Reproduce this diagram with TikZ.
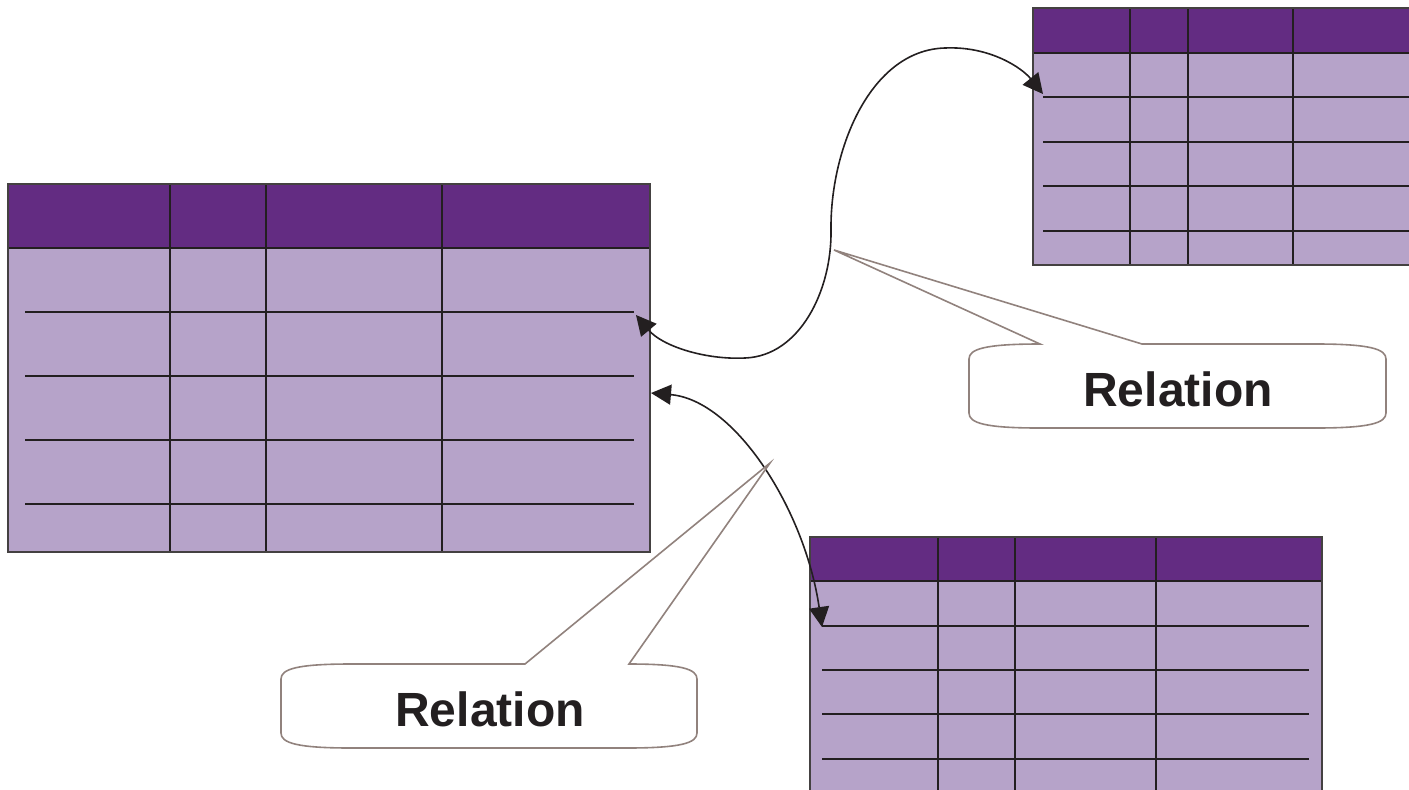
\documentclass[tikz,border=0pt]{standalone}
\usepackage{fontspec}
\setmainfont{Liberation Sans}
\usetikzlibrary{arrows.meta}
\definecolor{hdr}{RGB}{99,44,130}
\definecolor{bdy}{RGB}{182,163,201}
\definecolor{ink}{RGB}{35,31,32}
\definecolor{callborder}{RGB}{145,130,125}
\begin{document}
\begin{tikzpicture}[x=1pt,y=-1pt,
  tbl/.style={draw=ink!85,line width=1.4pt,fill=bdy,inner sep=0pt,outer sep=0pt,anchor=north west},
  hdrbox/.style={fill=hdr,draw=ink,line width=1.4pt,inner sep=0pt,outer sep=0pt,anchor=north west},
  gridline/.style={draw=ink,line width=1.6pt},
  link/.style={draw=ink,line width=1.6pt,{Triangle[length=20pt,width=20pt]}-{Triangle[length=20pt,width=20pt]}},
  callshape/.style={draw=callborder,line width=1.6pt,fill=white},
  calltext/.style={font=\bfseries\fontsize{48}{52}\selectfont,text=ink,inner sep=0pt}]
\useasboundingbox (0,0) rectangle (1409,790);

% ---------- left table ----------
\node[tbl,minimum width=642,minimum height=368] (left) at (8,184) {};
\node[hdrbox,minimum width=642,minimum height=64] (lefthdr) at (8,184) {};
\foreach \x in {170,266,442} \draw[gridline] (\x,184) -- (\x,552);
\foreach \y in {312,376,440,504} \draw[gridline] (25,\y) -- (634,\y);
\draw[draw=ink!85,line width=1.4pt] (8,184) rectangle (650,552);

% ---------- top right table ----------
\node[tbl,minimum width=380,minimum height=257] (topr) at (1033,8) {};
\node[hdrbox,minimum width=380,minimum height=45] (toprhdr) at (1033,8) {};
\foreach \x in {1130,1188,1293} \draw[gridline] (\x,8) -- (\x,265);
\foreach \y in {97,142,186,231} \draw[gridline] (1043,\y) -- (1413,\y);
\draw[draw=ink!85,line width=1.4pt] (1033,8) rectangle (1413,265);

% ---------- bottom right table ----------
\node[tbl,minimum width=512,minimum height=270] (botr) at (810,537) {};
\node[hdrbox,minimum width=512,minimum height=44] (botrhdr) at (810,537) {};
\foreach \x in {938,1015,1156} \draw[gridline] (\x,537) -- (\x,807);
\foreach \y in {626,670,714,759} \draw[gridline] (822,\y) -- (1309,\y);
\draw[draw=ink!85,line width=1.4pt] (810,537) rectangle (1322,807);

% ---------- connector end points ----------
\coordinate (leftA) at (636,315);
\coordinate (leftB) at (651,393);
\coordinate (toprA) at (1043,94);
\coordinate (botrA) at (822,627);
\coordinate (loop) at (745,358);
\coordinate (crest) at (945,48);

% ---------- relation arrows ----------
\draw[link] (leftA) .. controls (662,346) and (705,360) .. (loop)
  .. controls (800,356) and (832,290) .. (831,230)
  .. controls (830,150) and (870,50) .. (crest)
  .. controls (990,46) and (1022,68) .. (toprA);
\draw[link] (leftB) .. controls (735,400) and (805,510) .. (botrA);

% ---------- callouts ----------
\coordinate (tip1) at (834,250);
\coordinate (tip2) at (770,463);
\draw[callshape] (1040,344) -- (tip1) -- (1142,344) -- (1316,344)
  .. controls (1370,344) and (1386,349) .. (1386,359) -- (1386,413)
  .. controls (1386,423) and (1370,428) .. (1316,428) -- (1039,428)
  .. controls (985,428) and (969,423) .. (969,413) -- (969,359)
  .. controls (969,349) and (985,344) .. cycle;
\node[calltext] (rel1) at (1178,389) {Relation};

\draw[callshape] (525,664) -- (tip2) -- (629,664)
  .. controls (681,664) and (697,669) .. (697,679) -- (697,733)
  .. controls (697,743) and (681,748) .. (627,748) -- (351,748)
  .. controls (297,748) and (281,743) .. (281,733) -- (281,679)
  .. controls (281,669) and (297,664) .. (351,664) -- cycle;
\node[calltext] (rel2) at (490,709) {Relation};
\end{tikzpicture}
\end{document}
